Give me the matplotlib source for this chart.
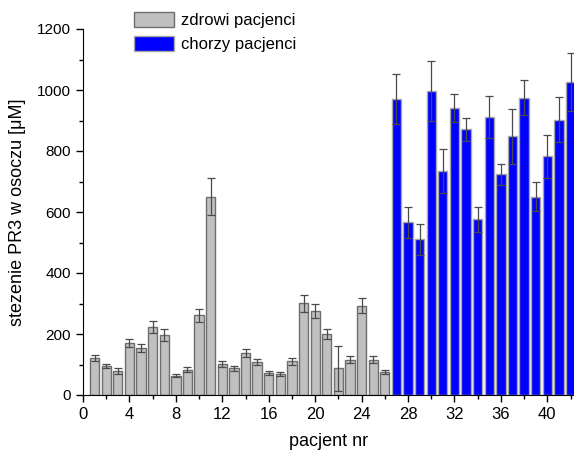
import matplotlib
matplotlib.use('Agg')
import matplotlib.pyplot as plt
import numpy as np
from matplotlib.ticker import MultipleLocator
from matplotlib.patches import Patch

plt.rcParams['font.family'] = ['Liberation Sans', 'DejaVu Sans']

# zdrowi pacjenci (1-26)
healthy_nr = list(range(1, 27))
healthy_val = [122, 95, 78, 172, 154, 222, 197, 63, 83, 261, 650, 103, 88,
               138, 109, 72, 68, 111, 301, 276, 201, 87, 116, 293, 116, 75]
healthy_err = [9, 7, 9, 13, 12, 20, 21, 5, 9, 22, 60, 10, 8,
               12, 9, 7, 7, 11, 28, 23, 17, 75, 12, 24, 12, 7]

# chorzy pacjenci (27-42)
sick_nr = list(range(27, 43))
sick_val = [970, 566, 510, 998, 734, 940, 871, 576, 912, 724, 848, 975,
            650, 782, 903, 1025]
sick_err = [82, 50, 51, 98, 72, 46, 37, 42, 69, 34, 90, 57, 48, 72, 73, 95]

fig = plt.figure(figsize=(5.74, 4.5), dpi=100)
ax = fig.add_axes([83/574, 55/450, 491/574, 366/450])

ekw = dict(ecolor='#4a4a4a', elinewidth=0.9, capsize=3, capthick=0.9)
ax.bar(healthy_nr, healthy_val, width=0.8, color='#c0c0c0', edgecolor='#6e6e6e',
       linewidth=1, yerr=healthy_err, error_kw=ekw, zorder=2)
ax.bar(sick_nr, sick_val, width=0.8, color='#0000ff', edgecolor='#a8a8a8',
       linewidth=1, yerr=sick_err, error_kw=ekw, zorder=2)

ax.set_xlim(0, 42.3)
ax.set_ylim(0, 1200)
ax.xaxis.set_major_locator(MultipleLocator(4))
ax.xaxis.set_minor_locator(MultipleLocator(2))
ax.yaxis.set_major_locator(MultipleLocator(200))
ax.yaxis.set_minor_locator(MultipleLocator(100))
ax.spines['top'].set_visible(False)
ax.spines['right'].set_visible(False)
ax.tick_params(which='major', direction='out', length=5, width=1, labelsize=12)
ax.tick_params(axis='y', labelsize=11)
ax.tick_params(which='minor', direction='out', length=3, width=1)

ax.set_xlabel('pacjent nr', fontsize=13, labelpad=8)
ax.set_ylabel('stezenie PR3 w osoczu [\u03bcM]', fontsize=13, labelpad=8)

handles = [Patch(facecolor='#c0c0c0', edgecolor='#6e6e6e', label='zdrowi pacjenci'),
           Patch(facecolor='#0000ff', edgecolor='#a8a8a8', label='chorzy pacjenci')]
fig.legend(handles=handles, loc='upper left', bbox_to_anchor=(119/574, 1 + 3/450),
           frameon=False, fontsize=12, handlelength=2.4, handleheight=1.0,
           labelspacing=0.45, handletextpad=0.4)

fig.savefig('out.png', dpi=100)
